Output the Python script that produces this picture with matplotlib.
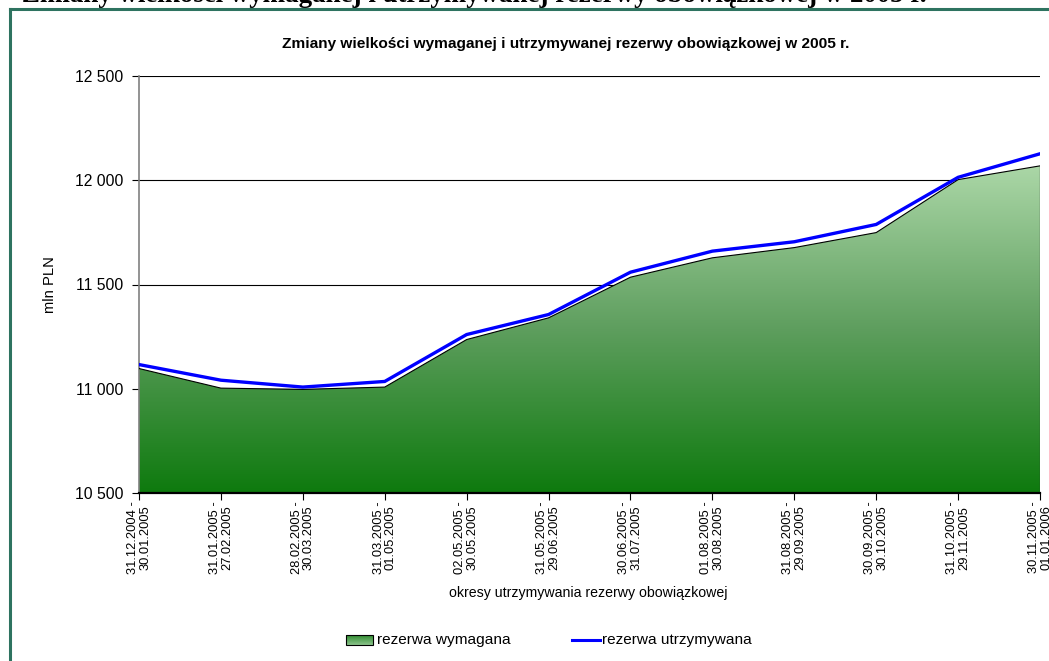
import numpy as np
import matplotlib
matplotlib.use("Agg")
import matplotlib.pyplot as plt
from matplotlib.colors import LinearSegmentedColormap
from matplotlib.patches import Polygon, Rectangle
from matplotlib.lines import Line2D

plt.rcParams['font.family'] = ['Liberation Sans', 'DejaVu Sans']

periods = [
    "31.12.2004 -\n30.01.2005", "31.01.2005 -\n27.02.2005", "28.02.2005 -\n30.03.2005",
    "31.03.2005 -\n01.05.2005", "02.05.2005 -\n30.05.2005", "31.05.2005 -\n29.06.2005",
    "30.06.2005 -\n31.07.2005", "01.08.2005 -\n30.08.2005", "31.08.2005 -\n29.09.2005",
    "30.09.2005 -\n30.10.2005", "31.10.2005 -\n29.11.2005", "30.11.2005 -\n01.01.2006",
]
wymagana = [11097, 11003, 10997, 11008, 11236, 11340, 11535, 11628, 11677, 11749, 12003, 12069]
utrzymywana = [11116, 11041, 11008, 11035, 11260, 11356, 11559, 11660, 11705, 11788, 12014, 12127]
yticks = [10500, 11000, 11500, 12000, 12500]
ytick_labels = ["10 500", "11 000", "11 500", "12 000", "12 500"]

W, H = 1049, 661
fig = plt.figure(figsize=(W / 100, H / 100), dpi=100)
fig.patch.set_facecolor("white")

# outer frame (green-gray border)
frame_col = "#2E7360"
fig.add_artist(Line2D([9.5 / W, 9.5 / W], [0, 1 - 8.5 / H], color=frame_col, lw=2.2,
                      transform=fig.transFigure))
fig.add_artist(Line2D([9.5 / W, 1.0], [1 - 8.5 / H, 1 - 8.5 / H], color=frame_col, lw=2.2,
                      transform=fig.transFigure))

# page header (cut off at top)
fig.text(22 / W, 1 - 2.5 / H,
         "Zmiany wielkości wymaganej i utrzymywanej rezerwy obowiązkowej w 2005 r.",
         family=['Liberation Serif', 'DejaVu Serif'], weight='bold', fontsize=19.4,
         ha='left', va='baseline')

ax = fig.add_axes([139 / W, 1 - 493 / H, (1040 - 139) / W, (493 - 76) / H])
x = np.arange(len(periods))
ax.set_xlim(0, len(periods) - 1)
ax.set_ylim(yticks[0], yticks[-1])

# gradient-filled area
cmap = LinearSegmentedColormap.from_list("g", ["#0E7A0E", "#5E9E5E", "#ABD7A7"])
ymax = max(wymagana)
grad = np.linspace(0, 1, 256).reshape(-1, 1)
im = ax.imshow(grad, aspect='auto', cmap=cmap, origin='lower',
               extent=[x[0], x[-1], yticks[0], ymax], zorder=1)
verts = [(x[0], yticks[0])] + list(zip(x, wymagana)) + [(x[-1], yticks[0])]
poly = Polygon(verts, closed=True, facecolor='none', edgecolor='none')
ax.add_patch(poly)
im.set_clip_path(poly)
ax.plot(x, wymagana, color='black', lw=0.8, zorder=3)
ax.plot([x[-1], x[-1]], [yticks[0], wymagana[-1]], color='#333333', lw=0.9, zorder=3)

ax.plot(x, utrzymywana, color='#0000FF', lw=2.4, zorder=4, solid_joinstyle='miter')

# gridlines
for yv in yticks[1:]:
    ax.axhline(yv, color='black', lw=0.8, zorder=0.5)

ax.set_yticks(yticks)
ax.set_yticklabels(ytick_labels, fontsize=11.3)
ax.set_xticks(x)
ax.set_xticklabels(periods, rotation=90, fontsize=9.3, ha='center', va='top',
                   multialignment='center', linespacing=1.05)
ax.tick_params(axis='y', direction='out', length=5, width=0.8, pad=6)
ax.tick_params(axis='x', direction='out', length=5, width=0.8, pad=1)

for s in ['top', 'right']:
    ax.spines[s].set_visible(False)
ax.spines['left'].set_color('#808080')
ax.spines['left'].set_linewidth(1.2)
ax.spines['bottom'].set_color('black')
ax.spines['bottom'].set_linewidth(1.6)
ax.spines['bottom'].set_zorder(5)

ax.set_ylabel("mln PLN", fontsize=10.6)
ax.yaxis.set_label_coords(-(139 - 57) / (1040 - 139), 0.5)
fig.text(588 / W, 1 - 593 / H, "okresy utrzymywania rezerwy obowiązkowej",
         fontsize=10.2, ha='center', va='center')

fig.text(566 / W, 1 - 44 / H,
         "Zmiany wielkości wymaganej i utrzymywanej rezerwy obowiązkowej w 2005 r.",
         fontsize=11.1, weight='bold', ha='center', va='center')

# legend
lax = fig.add_axes([0, 0, 1, 1], facecolor='none')
lax.set_xlim(0, W)
lax.set_ylim(H, 0)
lax.axis('off')
cm_leg = LinearSegmentedColormap.from_list("l", ["#2F8A2F", "#8CC48C"])
lim = lax.imshow(np.linspace(0, 1, 50).reshape(-1, 1), aspect='auto', cmap=cm_leg,
                 extent=[346, 373, 645, 635], origin='upper', zorder=1)
lax.add_patch(Rectangle((346, 635), 27, 10, facecolor='none', edgecolor='black', lw=0.8, zorder=2))
lax.text(377, 640, "rezerwa wymagana", fontsize=11.1, va='center', ha='left')
lax.plot([572, 600], [640, 640], color='#0000FF', lw=2.2)
lax.text(602, 640, "rezerwa utrzymywana", fontsize=11.1, va='center', ha='left')

fig.savefig("out.png", dpi=100)
